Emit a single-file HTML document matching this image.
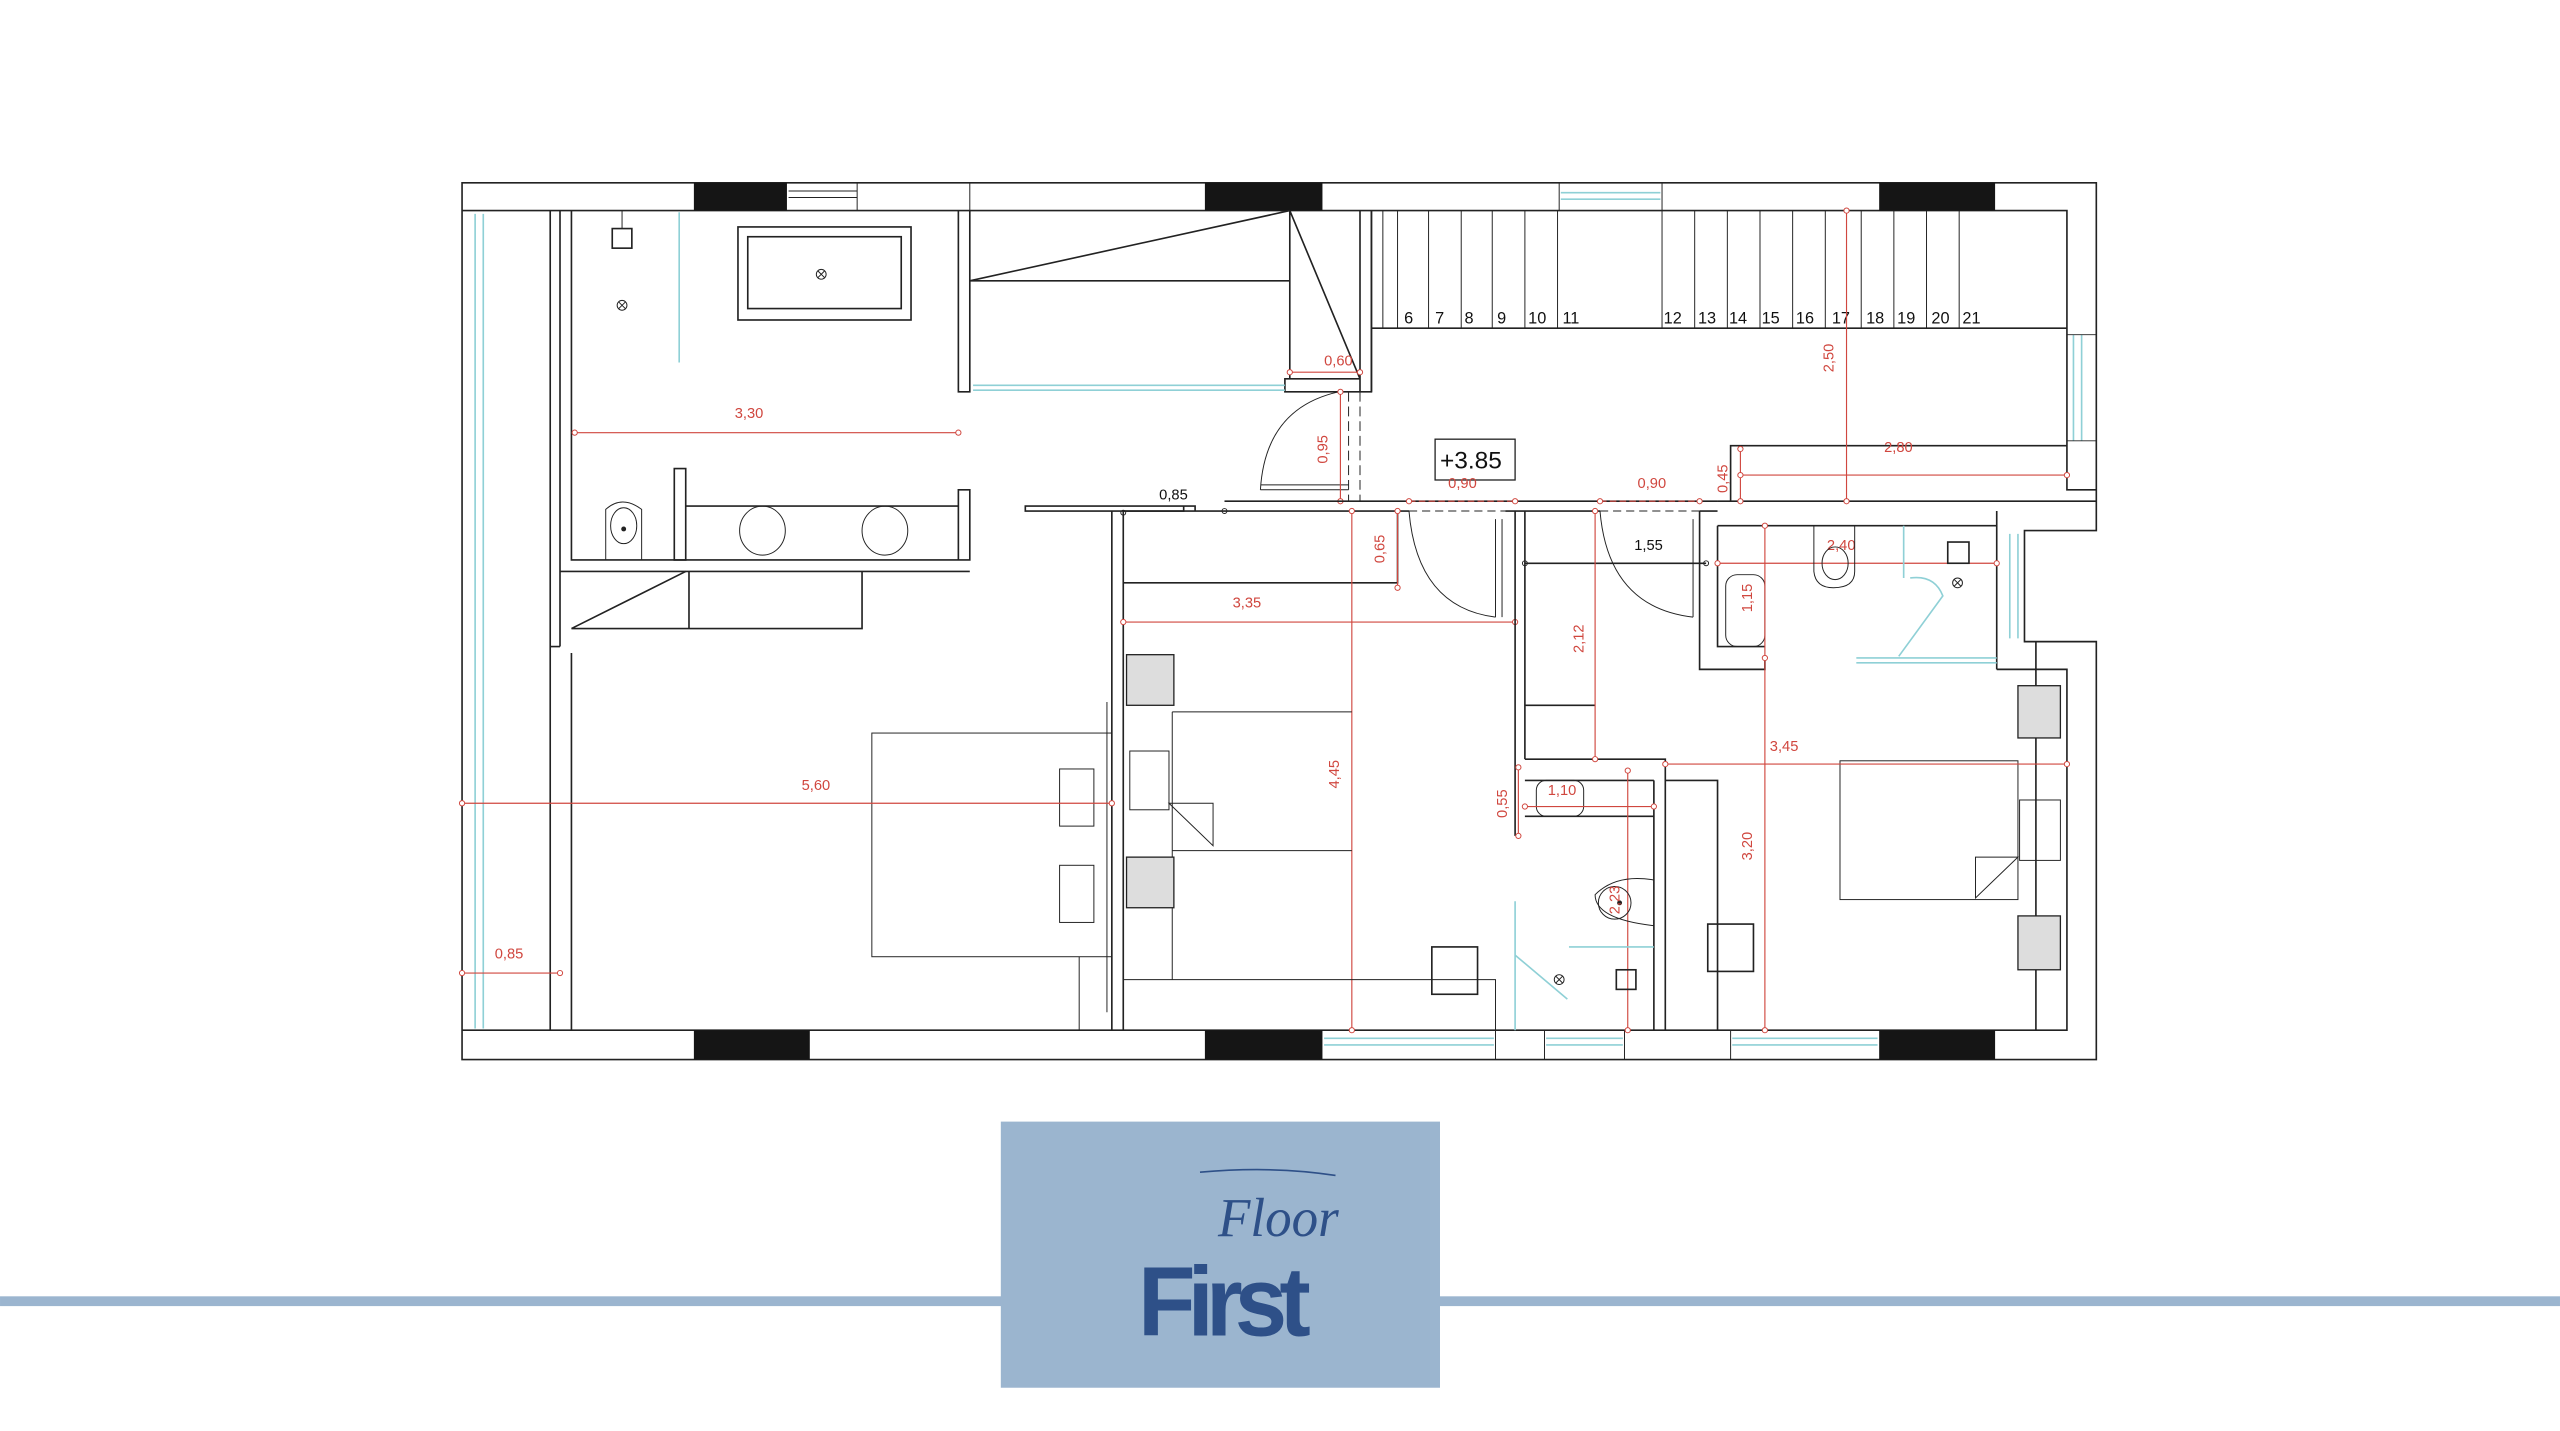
<!DOCTYPE html>
<html><head><meta charset="utf-8"><style>
html,body{margin:0;padding:0;background:#fff;}
svg{display:block;}
.w{fill:none;stroke:#222;stroke-width:1;}
.t{fill:none;stroke:#222;stroke-width:0.6;}
.c{fill:none;stroke:#8fd0d6;stroke-width:1;}
.r{fill:none;stroke:#d0473f;stroke-width:0.7;}
.rd{fill:#fff;stroke:#d0473f;stroke-width:0.6;}
.rt{fill:#d0473f;font-family:"Liberation Sans",sans-serif;font-size:9px;}
.bt{fill:#111;font-family:"Liberation Sans",sans-serif;}
.g{fill:#ddd;stroke:#222;stroke-width:0.8;}
</style></head><body>
<svg width="2560" height="1431" viewBox="0 0 1568 876.5" xmlns="http://www.w3.org/2000/svg">
<rect x="0" y="0" width="1568" height="877" fill="#fff"/>
<rect x="0" y="794" width="1568" height="6" fill="#9bb5cf"/>
<rect x="613" y="687" width="269" height="163" fill="#9bb5cf"/>
<text x="697" y="818" font-family="Liberation Sans,sans-serif" font-weight="bold" font-size="60" fill="#2e5088" letter-spacing="-5" textLength="101" lengthAdjust="spacingAndGlyphs">First</text>
<path d="M735,718 Q780,714 818,720" stroke="#2e5088" stroke-width="1" fill="none"/>
<text x="746" y="757" font-family="Liberation Serif,serif" font-style="italic" font-size="34" fill="#2e5088" textLength="74" lengthAdjust="spacingAndGlyphs">Floor</text>

<path class="w" d="M283,112 H1284 V325 H1240 V393 H1284 V649 H283 Z"/>
<path class="w" d="M283,129 H1266 V300 H1284"/>
<path class="w" d="M283,631 H1266 V410 H1247 V393"/>
<rect x="425" y="112" width="57" height="17" fill="#151515"/>
<rect x="738" y="112" width="72" height="17" fill="#151515"/>
<rect x="1151" y="112" width="71" height="17" fill="#151515"/>
<path class="t" d="M525,112V129M594,112V129M955,112V129M1018,112V129M483,117H525M483,121H525"/>
<path class="c" d="M956,118H1017M956,122H1017"/>
<rect x="425" y="631" width="71" height="18" fill="#151515"/>
<rect x="738" y="631" width="72" height="18" fill="#151515"/>
<rect x="1151" y="631" width="71" height="18" fill="#151515"/>
<path class="t" d="M916,631V649M946,631V649M995,631V649M1060,631V649"/>
<path class="c" d="M811,636H915M811,640H915M947,636H994M947,640H994M1061,636H1150M1061,640H1150"/>
<path class="c" d="M291,131V630M296,131V630"/>
<path class="c" d="M1270,205V270M1275,205V270M1231,327V391M1236,327V391"/>
<path class="t" d="M1266,205H1284M1266,270H1284"/>

<path class="w" d="M337,129V631M343,129V396M350,400V631M343,396H337"/>
<path class="w" d="M350,129V343H594V300H587V343"/>
<path class="w" d="M343,350H594"/>
<path class="w" d="M587,129V240H594V129"/>
<path class="c" d="M416,130V222"/>
<rect class="w" x="375" y="140" width="12" height="12"/>
<path class="t" d="M381,129V140"/>
<circle class="t" cx="381" cy="187" r="3"/><path class="t" d="M379,185l4,4M383,185l-4,4"/>
<rect class="w" x="452" y="139" width="106" height="57"/>
<rect class="w" x="458" y="145" width="94" height="44"/>
<circle class="t" cx="503" cy="168" r="3"/><path class="t" d="M501,166l4,4M505,166l-4,4"/>
<path class="r" d="M352,265H587"/><circle class="rd" cx="352" cy="265" r="1.6"/><circle class="rd" cx="587" cy="265" r="1.6"/>
<text class="rt" x="450" y="256">3,30</text>
<rect class="w" x="413" y="287" width="7" height="56"/>
<path class="w" d="M420,310H587"/>
<ellipse class="t" cx="467" cy="325" rx="14" ry="15"/>
<ellipse class="t" cx="542" cy="325" rx="14" ry="15"/>
<path class="t" d="M371,343V312Q381,303 393,312V343Z"/>
<ellipse class="t" cx="382" cy="322" rx="8" ry="11"/><circle cx="382" cy="324" r="1.5" fill="#222"/>
<path class="w" d="M350,385H528V350M422,350V385M350,385L420,350"/>
<path class="w" d="M594,172H790M594,172L790,129M790,129V232M790,129L833,232M833,129V240H840V129M787,232H833V240H787Z"/>
<path class="c" d="M596,236H787M596,239H787"/>
<path class="r" d="M790,228H833"/><circle class="rd" cx="790" cy="228" r="1.6"/><circle class="rd" cx="833" cy="228" r="1.6"/>
<text class="rt" x="811" y="224">0,60</text>
<path class="t" d="M772,300Q775,250 820,240M772,297H826M772,300H826"/>
<path class="t" d="M826,240V307M833,240V307" stroke-dasharray="6,3"/>
<path class="r" d="M821,240V307"/><circle class="rd" cx="821" cy="240" r="1.6"/><circle class="rd" cx="821" cy="307" r="1.6"/>
<text class="rt" transform="translate(813,284) rotate(-90)">0,95</text>
<path class="w" d="M628,310H725V313H628ZM725,310H732V313"/>
<path class="w" d="M750,307H1052M688,313H863M922,313H980M1041,313H1052"/>
<circle class="t" cx="750" cy="313" r="1.5"/><circle class="t" cx="688" cy="314" r="1.5"/>
<text class="bt" x="710" y="306" style="font-size:9px">0,85</text>
<path class="w" d="M840,129V240M840,201H1266"/>
<path class="t" d="M847,129V201M856,129V201M875,129V201M895,129V201M914,129V201M934,129V201M954,129V201M1018,129V201M1038,129V201M1058,129V201M1078,129V201M1098,129V201M1118,129V201M1140,129V201M1160,129V201M1180,129V201M1200,129V201"/>
<g class="bt" style="font-size:10px">
<text x="860" y="198">6</text><text x="879" y="198">7</text><text x="897" y="198">8</text><text x="917" y="198">9</text><text x="936" y="198">10</text><text x="957" y="198">11</text>
<text x="1019" y="198">12</text><text x="1040" y="198">13</text><text x="1059" y="198">14</text><text x="1079" y="198">15</text><text x="1100" y="198">16</text><text x="1122" y="198">17</text><text x="1143" y="198">18</text><text x="1162" y="198">19</text><text x="1183" y="198">20</text><text x="1202" y="198">21</text>
</g>
<path class="w" d="M1060,307V273H1266M1052,307H1284"/>
<path class="r" d="M1131,129V307"/><circle class="rd" cx="1131" cy="129" r="1.6"/><circle class="rd" cx="1131" cy="307" r="1.6"/>
<text class="rt" transform="translate(1123,228) rotate(-90)">2,50</text>
<path class="r" d="M1066,291H1266M1066,275V307"/><circle class="rd" cx="1066" cy="291" r="1.6"/><circle class="rd" cx="1266" cy="291" r="1.6"/><circle class="rd" cx="1066" cy="275" r="1.6"/><circle class="rd" cx="1066" cy="307" r="1.6"/>
<text class="rt" x="1154" y="277">2,80</text>
<text class="rt" transform="translate(1058,302) rotate(-90)">0,45</text>
<rect x="879" y="269" width="49" height="25" fill="#fff" stroke="#222" stroke-width="0.8"/>
<text class="bt" x="882" y="287" style="font-size:15px">+3.85</text>
<path class="r" d="M863,307H928M980,307H1041" stroke-dasharray="4,2"/>
<circle class="rd" cx="863" cy="307" r="1.6"/><circle class="rd" cx="928" cy="307" r="1.6"/><circle class="rd" cx="980" cy="307" r="1.6"/><circle class="rd" cx="1041" cy="307" r="1.6"/>
<text class="rt" x="887" y="299">0,90</text><text class="rt" x="1003" y="299">0,90</text>
<path class="w" d="M681,313V631M688,313V631M688,357H856V313"/>
<path class="t" d="M863,313H922" stroke-dasharray="5,3"/>
<path class="t" d="M863,313Q868,372 916,378M916,318V378M920,318V378"/>
<path class="r" d="M856,313V360"/><circle class="rd" cx="856" cy="313" r="1.6"/><circle class="rd" cx="856" cy="360" r="1.6"/>
<text class="rt" transform="translate(848,345) rotate(-90)">0,65</text>
<path class="r" d="M828,313V631"/><circle class="rd" cx="828" cy="313" r="1.6"/><circle class="rd" cx="828" cy="631" r="1.6"/>
<text class="rt" transform="translate(820,483) rotate(-90)">4,45</text>
<path class="r" d="M688,381H928"/><circle class="rd" cx="688" cy="381" r="1.6"/><circle class="rd" cx="928" cy="381" r="1.6"/>
<text class="rt" x="755" y="372">3,35</text>
<path class="t" d="M718,436H828M718,521H828M718,436V600M688,600H916V631"/>
<rect class="g" x="690" y="401" width="29" height="31"/>
<rect class="g" x="690" y="525" width="29" height="31"/>
<rect class="t" x="692" y="460" width="24" height="36"/>
<path class="t" d="M716,492H743V518ZM716,492L743,518"/>
<rect class="w" x="877" y="580" width="28" height="29"/>
<rect class="t" x="534" y="449" width="147" height="137"/>
<rect class="t" x="649" y="471" width="21" height="35"/>
<rect class="t" x="649" y="530" width="21" height="35"/>
<path class="t" d="M661,586V631M678,430V620"/>
<path class="r" d="M283,492H681"/><circle class="rd" cx="283" cy="492" r="1.6"/><circle class="rd" cx="681" cy="492" r="1.6"/>
<text class="rt" x="491" y="484">5,60</text>
<path class="r" d="M283,596H343"/><circle class="rd" cx="283" cy="596" r="1.6"/><circle class="rd" cx="343" cy="596" r="1.6"/>
<text class="rt" x="303" y="587">0,85</text>
<path class="w" d="M928,313V512M934,313V465M934,345H1045M934,432H977M934,465H1020V631M1013,478V631M934,478H1013M1020,478H1052V631"/>
<circle class="t" cx="934" cy="345" r="1.5"/><circle class="t" cx="1045" cy="345" r="1.5"/>
<text class="bt" x="1001" y="337" style="font-size:9px">1,55</text>
<path class="t" d="M980,313Q985,372 1037,378M1037,318V378M1041,318V378"/>
<path class="t" d="M980,313H1041" stroke-dasharray="5,3"/>
<path class="r" d="M977,313V465"/><circle class="rd" cx="977" cy="313" r="1.6"/><circle class="rd" cx="977" cy="465" r="1.6"/>
<text class="rt" transform="translate(970,400) rotate(-90)">2,12</text>
<path class="w" d="M934,500H1013"/>
<rect class="t" x="941" y="478" width="29" height="22" rx="6"/>
<text class="rt" x="948" y="487">1,10</text>
<path class="r" d="M930,470V512M934,494H1013M997,472V631"/>
<circle class="rd" cx="930" cy="470" r="1.6"/><circle class="rd" cx="930" cy="512" r="1.6"/><circle class="rd" cx="934" cy="494" r="1.6"/><circle class="rd" cx="1013" cy="494" r="1.6"/><circle class="rd" cx="997" cy="472" r="1.6"/><circle class="rd" cx="997" cy="631" r="1.6"/>
<text class="rt" transform="translate(923,501) rotate(-90)">0,55</text>
<path class="t" d="M1013,539Q990,535 977,548Q977,563 1013,567"/>
<ellipse class="t" cx="989" cy="553" rx="10" ry="10"/><circle cx="992" cy="553" r="1.5" fill="#222"/>
<text class="rt" transform="translate(992,560) rotate(-90)">2,23</text>
<path class="c" d="M928,552V631M928,585L960,612M961,580H1013"/>
<circle class="t" cx="955" cy="600" r="3"/><path class="t" d="M953,598l4,4M957,598l-4,4"/>
<rect class="w" x="990" y="594" width="12" height="12"/>
<path class="w" d="M1041,313V410H1081V403M1052,322V396H1081M1052,322H1223V313M1223,322V410"/>
<rect class="t" x="1057" y="352" width="24" height="44" rx="7"/>
<path class="r" d="M1081,322V631"/><circle class="rd" cx="1081" cy="322" r="1.6"/><circle class="rd" cx="1081" cy="403" r="1.6"/><circle class="rd" cx="1081" cy="631" r="1.6"/>
<text class="rt" transform="translate(1073,375) rotate(-90)">1,15</text>
<text class="rt" transform="translate(1073,527) rotate(-90)">3,20</text>
<path class="r" d="M1052,345H1223"/><circle class="rd" cx="1052" cy="345" r="1.6"/><circle class="rd" cx="1223" cy="345" r="1.6"/>
<text class="rt" x="1119" y="337">2,40</text>
<path class="t" d="M1111,322V350Q1112,360 1123,360Q1136,360 1136,350V322"/>
<ellipse class="t" cx="1124" cy="345" rx="8" ry="10"/>
<rect class="w" x="1193" y="332" width="13" height="13"/>
<circle class="t" cx="1199" cy="357" r="3"/><path class="t" d="M1197,355l4,4M1201,355l-4,4"/>
<path class="c" d="M1166,322V354M1170,354Q1185,352 1190,365L1163,402M1137,403H1223M1137,406H1223"/>
<path class="w" d="M1223,410H1247V631"/>
<rect class="t" x="1127" y="466" width="109" height="85"/>
<rect class="g" x="1236" y="420" width="26" height="32"/>
<rect class="g" x="1236" y="561" width="26" height="33"/>
<rect class="t" x="1237" y="490" width="25" height="37"/>
<path class="t" d="M1210,525H1236L1210,550Z"/>
<path class="r" d="M1020,468H1266"/><circle class="rd" cx="1020" cy="468" r="1.6"/><circle class="rd" cx="1266" cy="468" r="1.6"/>
<text class="rt" x="1084" y="460">3,45</text>
<rect class="w" x="1046" y="566" width="28" height="29"/>
</svg>
</body></html>
